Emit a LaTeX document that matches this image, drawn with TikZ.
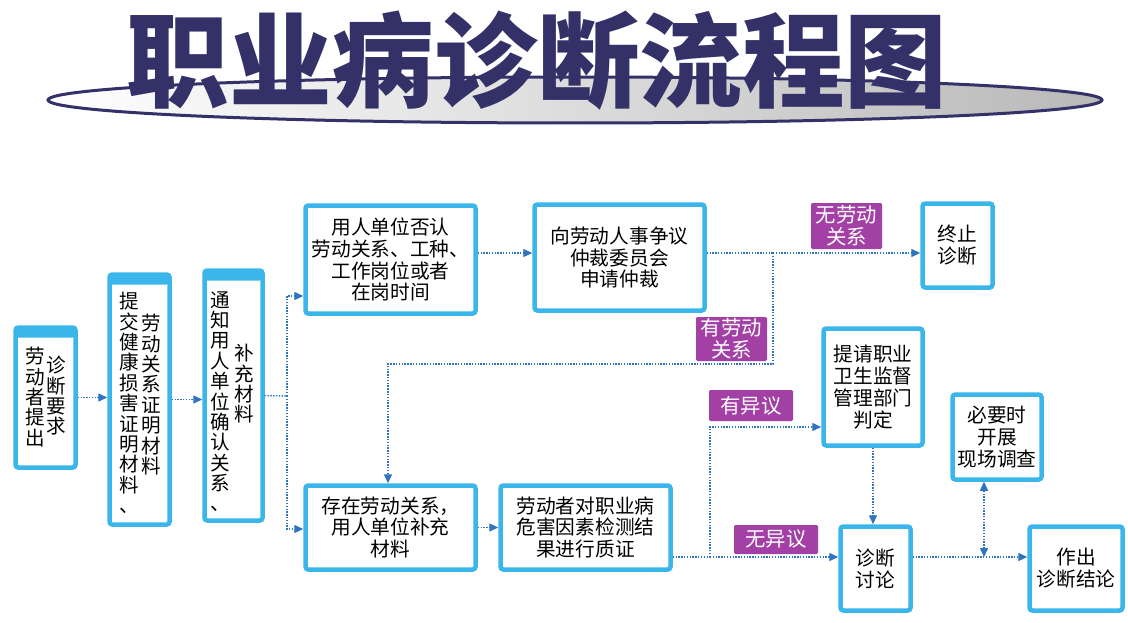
\documentclass[tikz,border=0pt]{standalone}
\usepackage{fontspec}
\setmainfont{Noto Sans CJK SC}
\usepackage{tikz}
\usetikzlibrary{arrows,arrows.meta,shapes,positioning}
\usepackage{xcolor}
\definecolor{dfnavy}{RGB}{52,49,104}
\definecolor{dfblue}{RGB}{46,117,190}
\definecolor{dfcyan}{RGB}{58,182,235}
\definecolor{dfpurple}{RGB}{163,64,166}
\newdimen\pxu \pxu=0.025cm
\tikzstyle{box} = [draw=dfcyan, line width=4.5\pxu, fill=white, rounded corners=2pt, inner sep=0pt, align=center, font=\fontsize{14pt}{15.6pt}\selectfont]
\tikzstyle{vbox} = [box, path picture={\fill[dfcyan] (path picture bounding box.north west) rectangle ([yshift=-10\pxu]path picture bounding box.north east);}]
\tikzstyle{col} = [inner sep=0pt, align=center, font=\fontsize{13.9pt}{14.5pt}\selectfont]
\tikzstyle{tag} = [fill=dfpurple, text=white, rounded corners=1pt, inner sep=0pt, align=center, font=\fontsize{14.5pt}{15.5pt}\selectfont]
\tikzstyle{link} = [dfblue, line width=1pt, densely dotted]
\tikzstyle{arrow} = [link, -{Triangle[length=6.4pt,width=5.7pt]}]

\begin{document}
\begin{tikzpicture}[x=0.025cm, y=-0.025cm]
\useasboundingbox (0,0) rectangle (1128,623);

% Title
\draw[dfnavy, line width=3\pxu, left color=white, right color=gray!55] (575,100) ellipse [x radius=527, y radius=23];
\node[text=dfnavy, font=\fontsize{73pt}{80pt}\selectfont\bfseries] (title) at (537,61) {职业病诊断流程图};

% Vertical boxes
\node[vbox, minimum width=60\pxu, minimum height=140\pxu] (b1) at (45.5,397.5) {};
\node[col, anchor=north] (b1a) at (35,347) {劳\\动\\者\\提\\出};
\node[col, anchor=north] (b1b) at (56,356) {诊\\断\\要\\求};

\node[vbox, minimum width=60\pxu, minimum height=250\pxu] (b2) at (139.5,399.5) {};
\node[col, anchor=north] (b2a) at (129,292) {提\\交\\健\\康\\损\\害\\证\\明\\材\\料\\、};
\node[col, anchor=north] (b2b) at (151.5,314) {劳\\动\\关\\系\\证\\明\\材\\料};

\node[vbox, minimum width=58\pxu, minimum height=250\pxu] (b3) at (233.5,395.5) {};
\node[col, anchor=north] (b3a) at (220,291) {通\\知\\用\\人\\单\\位\\确\\认\\关\\系\\、};
\node[col, anchor=north] (b3b) at (244,344) {补\\充\\材\\料};

% Boxes
\node[box, minimum width=170\pxu, minimum height=108\pxu] (b4) at (390.5,259.5) {用人单位否认\\劳动关系、工种、\\工作岗位或者\\在岗时间};
\node[box, minimum width=170\pxu, minimum height=106\pxu] (b5) at (619.5,257.5) {向劳动人事争议\\仲裁委员会\\申请仲裁};
\node[box, minimum width=70\pxu, minimum height=84\pxu] (bstop) at (957.5,245.5) {终止\\诊断};
\node[box, minimum width=170\pxu, minimum height=84\pxu] (b7) at (390.5,527.5) {存在劳动关系，\\用人单位补充\\材料};
\node[box, minimum width=170\pxu, minimum height=84\pxu] (b8) at (585.5,527.5) {劳动者对职业病\\危害因素检测结\\果进行质证};
\node[box, minimum width=99\pxu, minimum height=117\pxu] (bjd) at (873,387) {提请职业\\卫生监督\\管理部门\\判定};
\node[box, minimum width=70\pxu, minimum height=84\pxu] (btl) at (875.5,568.5) {诊断\\讨论};
\node[box, minimum width=89\pxu, minimum height=85\pxu] (bdc) at (997,437) {必要时\\开展\\现场调查};
\node[box, minimum width=93\pxu, minimum height=84\pxu] (bjl) at (1076,568.5) {作出\\诊断结论};

% Connectors
\draw[arrow] (b1.east) -- (b1.east -| b2.west);
\draw[arrow] (b2.east) -- (b2.east -| b3.west);
\coordinate (j1) at (287,396);
\coordinate (j1a) at (287,296);
\coordinate (j1b) at (287,529);
\draw[link] (b3.east) -- (j1);
\draw[arrow] (j1) -- (j1a) -- (j1a -| b4.west);
\draw[arrow] (j1) -- (j1b) -- (j1b -| b7.west);

\coordinate (j2) at (773,253);
\coordinate (j3) at (773,364);
\coordinate (j4) at (388,364);
\draw[arrow] (j2 -| b4.east) -- (j2 -| b5.west);
\draw[link] (j2 -| b5.east) -- (j2);
\draw[arrow] (j2) -- (j2 -| bstop.west);
\draw[arrow] (j2) -- (j3) -- (j4) -- (j4 |- b7.north);
\draw[arrow] (b7.east) -- (b7.east -| b8.west);

\coordinate (j5) at (710,557);
\coordinate (j6) at (710,427);
\draw[link] (j5 -| b8.east) -- (j5);
\draw[arrow] (j5) -- (j5 -| btl.west);
\draw[arrow] (j5) -- (j6) -- (j6 -| bjd.west);
\draw[arrow] (bjd.south) -- (bjd.south |- btl.north);

\coordinate (j7) at (984,557);
\draw[arrow] (j7 -| btl.east) -- (j7 -| bjl.west);
\draw[link, {Triangle[length=6.4pt,width=5.7pt]}-{Triangle[length=6.4pt,width=5.7pt]}] (j7) -- (j7 |- bdc.south);

% Labels
\node[tag, minimum width=71\pxu, minimum height=46\pxu] (lno) at (846.5,226) {无劳动\\关系};
\node[tag, minimum width=71\pxu, minimum height=44\pxu] (lyes) at (731.5,339) {有劳动\\关系};
\node[tag, minimum width=84\pxu, minimum height=31\pxu] (lyy) at (751,405.5) {有异议};
\node[tag, minimum width=84\pxu, minimum height=29\pxu] (lwy) at (776,539.5) {无异议};
\end{tikzpicture}
\end{document}
